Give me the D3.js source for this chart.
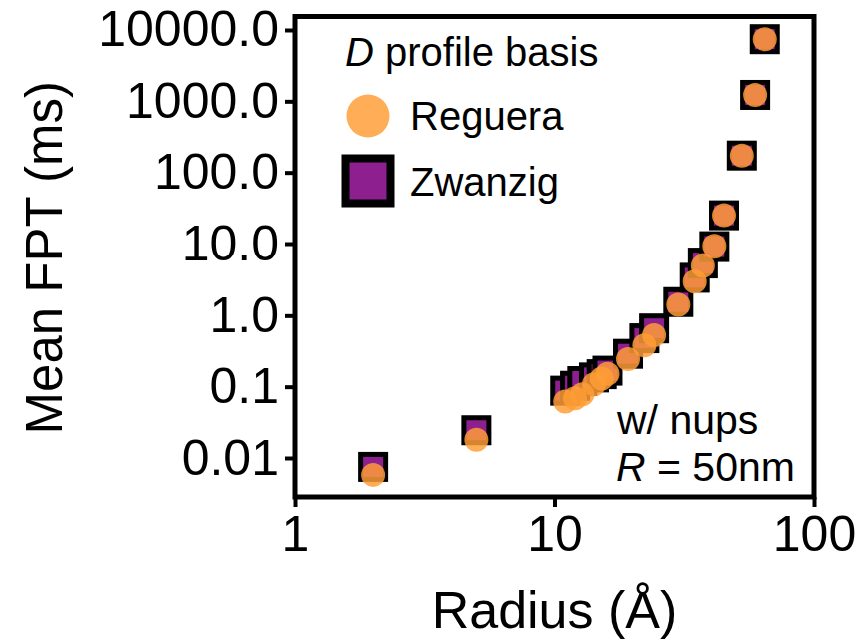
<!DOCTYPE html>
<html>
<head>
<meta charset="utf-8">
<script src="https://cdn.jsdelivr.net/npm/d3@7"></script>
<style>
  html, body { margin: 0; padding: 0; background: #fff; }
  svg { display: block; font-family: "Liberation Sans", Arial, Helvetica, sans-serif; }
</style>
</head>
<body>
<svg id="chart" width="858" height="640"></svg>
<script>
// Mean first-passage time vs. particle radius, two D-profile bases
const radius  = [2, 5, 11, 12, 12.8, 14.2, 15.2, 16.0, 19.2, 22.2, 24.2, 30, 34.7, 37.3, 41.3, 45, 52.7, 59.3, 64.6];
const zwanzig = [0.0075, 0.0245, 0.088, 0.103, 0.12, 0.135, 0.15, 0.168, 0.29, 0.48, 0.66, 1.55, 3.4, 5.4, 9.2, 25, 173, 1228, 7430];
const reguera = [0.0058, 0.018, 0.062, 0.069, 0.078, 0.108, 0.13, 0.152, 0.244, 0.38, 0.53, 1.42, 3.0, 5.0, 9.3, 25, 173, 1228, 7430];

const xTicks = [1, 10, 100];
const xTickLabels = ["1", "10", "100"];
const yTicks = [0.01, 0.1, 1, 10, 100, 1000, 10000];
const yTickLabels = ["0.01", "0.1", "1.0", "10.0", "100.0", "1000.0", "10000.0"];

const xDomain = [1, 100];
const yDomain = [0.00284, 15460];

const plot = { left: 295, right: 814, top: 16.5, bottom: 497 };
const purple = "#8e1f8e";
const orange = "#ff9d36";

const svg = d3.select("#chart");

const x = d3.scaleLog().domain(xDomain).range([plot.left, plot.right]);
const y = d3.scaleLog().domain(yDomain).range([plot.bottom, plot.top]);

// Axes
const yAxis = d3.axisLeft(y)
  .tickValues(yTicks)
  .tickFormat((d, i) => yTickLabels[i])
  .tickSize(10)
  .tickPadding(6);
const gy = svg.append("g").attr("transform", `translate(${plot.left},0)`).call(yAxis);
gy.select(".domain").remove();
gy.selectAll(".tick line").attr("stroke", "#000").attr("stroke-width", 4);
gy.selectAll(".tick text").attr("font-size", 50).attr("fill", "#000")
  .attr("font-family", "'Liberation Sans', Arial, sans-serif");

const xAxis = d3.axisBottom(x)
  .tickValues(xTicks)
  .tickFormat((d, i) => xTickLabels[i])
  .tickSize(10)
  .tickPadding(8);
const gx = svg.append("g").attr("transform", `translate(0,${plot.bottom})`).call(xAxis);
gx.select(".domain").remove();
gx.selectAll(".tick line").attr("stroke", "#000").attr("stroke-width", 4);
gx.selectAll(".tick text").attr("font-size", 50).attr("fill", "#000")
  .attr("font-family", "'Liberation Sans', Arial, sans-serif");

// Frame
svg.append("rect")
  .attr("x", plot.left).attr("y", plot.top)
  .attr("width", plot.right - plot.left).attr("height", plot.bottom - plot.top)
  .attr("fill", "none").attr("stroke", "#000").attr("stroke-width", 5);

// Axis titles
svg.append("text")
  .attr("transform", `translate(62,${(plot.top + plot.bottom) / 2 + 1}) rotate(-90)`)
  .attr("text-anchor", "middle").attr("font-size", 51)
  .text("Mean FPT (ms)");
svg.append("text")
  .attr("x", (plot.left + plot.right) / 2).attr("y", 628)
  .attr("text-anchor", "middle").attr("font-size", 52)
  .text("Radius (Å)");

// Zwanzig squares
const sq = 25;
svg.append("g").selectAll("rect")
  .data(radius.map((r, i) => ({ r, v: zwanzig[i] })))
  .join("rect")
  .attr("x", d => x(d.r) - sq / 2).attr("y", d => y(d.v) - sq / 2)
  .attr("width", sq).attr("height", sq)
  .attr("fill", purple).attr("stroke", "#000").attr("stroke-width", 5);

// Reguera circles
svg.append("g").selectAll("circle")
  .data(radius.map((r, i) => ({ r, v: reguera[i] })))
  .join("circle")
  .attr("cx", d => x(d.r)).attr("cy", d => y(d.v)).attr("r", 12)
  .attr("fill", orange).attr("fill-opacity", 0.84);

// Legend
const legend = svg.append("g");
const lt = legend.append("text").attr("x", 345).attr("y", 66).attr("font-size", 40);
lt.append("tspan").attr("font-style", "italic").text("D");
lt.append("tspan").text(" profile basis");
legend.append("circle").attr("cx", 368).attr("cy", 116).attr("r", 21.5)
  .attr("fill", orange).attr("fill-opacity", 0.84);
legend.append("text").attr("x", 410).attr("y", 130).attr("font-size", 40).text("Reguera");
legend.append("rect").attr("x", 368 - 22.5).attr("y", 181 - 22.5).attr("width", 45).attr("height", 45)
  .attr("fill", purple).attr("stroke", "#000").attr("stroke-width", 8);
legend.append("text").attr("x", 410).attr("y", 196).attr("font-size", 40).text("Zwanzig");

// Condition annotation
svg.append("text").attr("x", 617).attr("y", 434).attr("font-size", 41).text("w/ nups");
const rt = svg.append("text").attr("x", 616).attr("y", 481).attr("font-size", 41);
rt.append("tspan").attr("font-style", "italic").text("R");
rt.append("tspan").text(" = 50nm");
</script>
</body>
</html>
